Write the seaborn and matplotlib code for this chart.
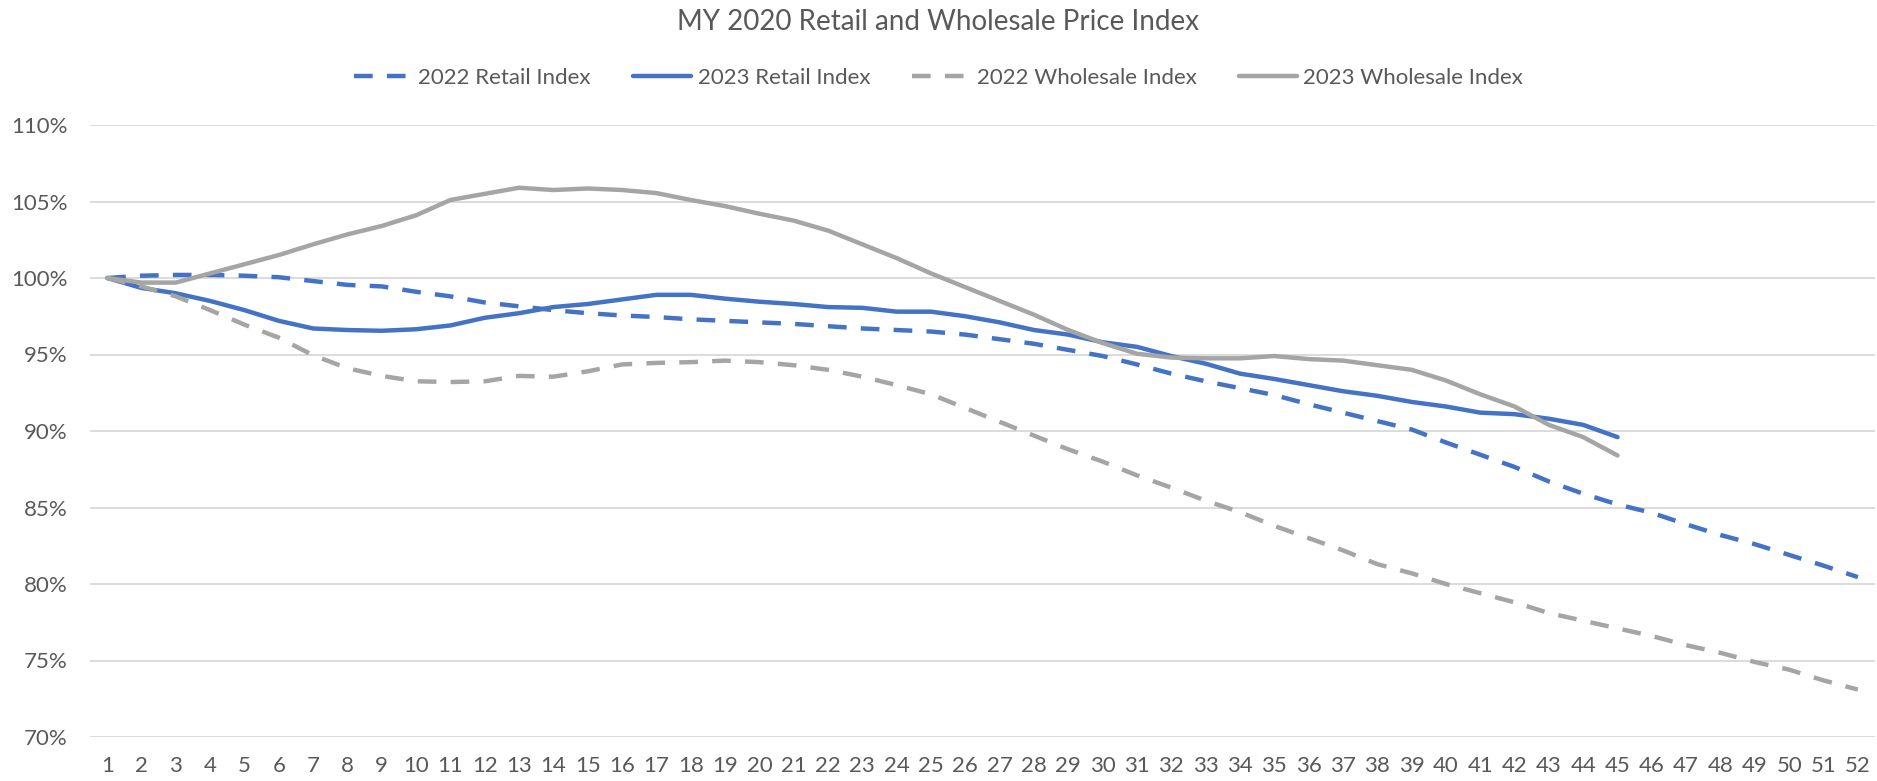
# =====================================
# 1. Import Libraries
# =====================================

import pandas as pd
import matplotlib
matplotlib.use("Agg")
import matplotlib.pyplot as plt
from matplotlib.ticker import PercentFormatter
import seaborn as sns

sns.set_style("white")
plt.rcParams['font.family'] = ['Lato', 'DejaVu Sans']

# =====================================
# 2. Data (index values in %, by week)
# =====================================

weeks = list(range(1, 53))

retail_2022 = [100.0, 100.15, 100.2, 100.2, 100.15, 100.05, 99.8, 99.55, 99.45, 99.1,
               98.8, 98.4, 98.15, 97.9, 97.7, 97.55, 97.45, 97.3, 97.2, 97.1,
               97.0, 96.85, 96.7, 96.6, 96.5, 96.3, 96.0, 95.7, 95.3, 94.9,
               94.35, 93.75, 93.25, 92.8, 92.35, 91.75, 91.2, 90.65, 90.1, 89.25,
               88.45, 87.65, 86.7, 85.9, 85.2, 84.65, 83.9, 83.2, 82.6, 81.9,
               81.2, 80.45]

retail_2023 = [100.0, 99.35, 99.0, 98.5, 97.9, 97.2, 96.7, 96.6, 96.55, 96.65,
               96.9, 97.4, 97.7, 98.1, 98.3, 98.6, 98.9, 98.9, 98.65, 98.45,
               98.3, 98.1, 98.05, 97.8, 97.8, 97.5, 97.1, 96.6, 96.3, 95.8,
               95.5, 94.9, 94.4, 93.75, 93.4, 93.0, 92.6, 92.3, 91.9, 91.6,
               91.2, 91.1, 90.8, 90.4, 89.6]

wholesale_2022 = [100.0, 99.45, 98.8, 97.9, 96.95, 96.1, 94.95, 94.1, 93.6, 93.25,
                  93.2, 93.25, 93.6, 93.55, 93.9, 94.35, 94.45, 94.5, 94.6, 94.5,
                  94.3, 94.0, 93.55, 93.0, 92.4, 91.5, 90.6, 89.7, 88.8, 88.0,
                  87.1, 86.3, 85.45, 84.7, 83.8, 83.0, 82.2, 81.3, 80.7, 80.0,
                  79.4, 78.8, 78.1, 77.6, 77.1, 76.6, 76.0, 75.5, 74.9, 74.4,
                  73.7, 73.1]

wholesale_2023 = [100.0, 99.7, 99.7, 100.3, 100.9, 101.5, 102.2, 102.85, 103.4, 104.1,
                  105.1, 105.5, 105.9, 105.75, 105.85, 105.75, 105.55, 105.1, 104.7, 104.2,
                  103.75, 103.1, 102.2, 101.3, 100.3, 99.4, 98.5, 97.6, 96.6, 95.75,
                  95.05, 94.8, 94.75, 94.75, 94.9, 94.7, 94.6, 94.3, 94.0, 93.3,
                  92.4, 91.6, 90.4, 89.6, 88.4]

series_names = ["2022 Retail Index", "2023 Retail Index",
                "2022 Wholesale Index", "2023 Wholesale Index"]
series_values = [retail_2022, retail_2023, wholesale_2022, wholesale_2023]

blue = "#4472C4"
gray = "#A5A5A5"
palette = {series_names[0]: blue, series_names[1]: blue,
           series_names[2]: gray, series_names[3]: gray}
dashes = {series_names[0]: (4.2, 3.2), series_names[1]: "",
          series_names[2]: (4.2, 3.2), series_names[3]: ""}

# long form table for seaborn
frames = []
for name, vals in zip(series_names, series_values):
    frames.append(pd.DataFrame({"Week": weeks[:len(vals)], "Index": vals, "Series": name}))
df = pd.concat(frames, ignore_index=True)

# =====================================
# 3. Plot
# =====================================

text_color = "#595959"

fig = plt.figure(figsize=(18.77, 7.81), dpi=100)
ax = fig.add_axes([90 / 1877, 1 - 737 / 781, 1785 / 1877, 612 / 781])

sns.lineplot(data=df, x="Week", y="Index", hue="Series", style="Series",
             hue_order=series_names, style_order=series_names,
             palette=palette, dashes=dashes, linewidth=3.2, ax=ax)

ax.set_xlim(0.5, 52.5)
ax.set_ylim(70, 110)
ax.set_xticks(weeks)
ax.set_yticks(range(70, 111, 5))
ax.yaxis.set_major_formatter(PercentFormatter(xmax=100, decimals=0))
ax.grid(axis="y", color="#D9D9D9", linewidth=1.3)
ax.set_axisbelow(True)
for s in ax.spines.values():
    s.set_visible(False)
ax.tick_params(axis="x", length=0, pad=14, labelsize=16, labelcolor=text_color)
ax.tick_params(axis="y", length=0, pad=16, labelsize=16, labelcolor=text_color)
ax.set_xlabel("")
ax.set_ylabel("")

# legend on top, like the spreadsheet chart
handles, labels = ax.get_legend_handles_labels()
ax.get_legend().remove()
fig.legend(handles, labels, loc="center", bbox_to_anchor=(0.5, 1 - 78 / 781),
           ncol=4, frameon=False, fontsize=16, labelcolor=text_color,
           handlelength=2.6, handletextpad=0.3, columnspacing=1.9)

fig.text(0.5, 1 - 22 / 781, "MY 2020 Retail and Wholesale Price Index",
         ha="center", va="center", fontsize=20, color=text_color)

fig.savefig("out.png", dpi=100)
